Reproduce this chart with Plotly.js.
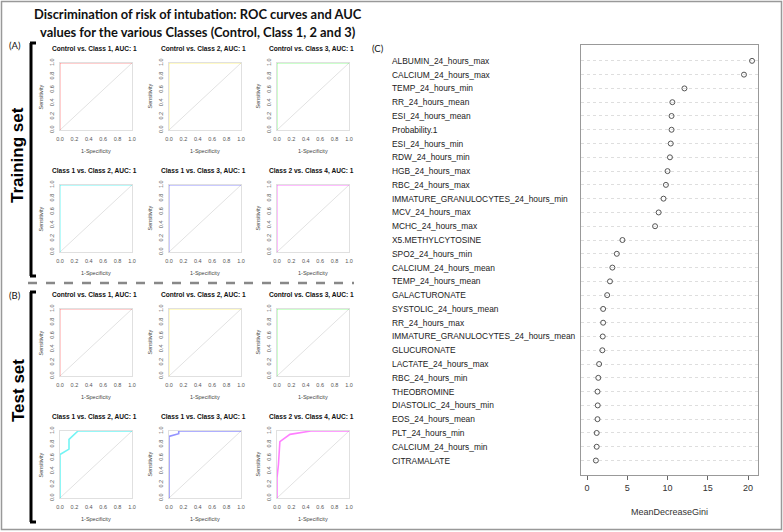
<!DOCTYPE html>
<html><head><meta charset="utf-8">
<script src="https://cdn.plot.ly/plotly-3.0.1.min.js"></script>
<style>html,body{margin:0;padding:0;background:#fff}</style>
</head><body><div id="chart" style="width:783px;height:532px"></div>
<script>
// ---------------- DATA ----------------
const rocTitles = [
  "Control vs. Class 1, AUC: 1", "Control vs. Class 2, AUC: 1", "Control vs. Class 3, AUC: 1",
  "Class 1 vs. Class 2, AUC: 1", "Class 1 vs. Class 3, AUC: 1", "Class 2 vs. Class 4, AUC: 1"
];
// training set: all perfect curves
const fprTrain = [0, 0, 1];
const tprTrain = [0, 1, 1];
// test set
const fprTestCtrl = [0, 0, 1];
const tprTestCtrl = [0, 1, 1];
const fprTestC1C2 = [0, 0, 0.125, 0.125, 0.25, 1];
const tprTestC1C2 = [0, 0.65, 0.73, 0.875, 1, 1];
const fprTestC1C3 = [0, 0, 0.135, 0.135, 1];
const tprTestC1C3 = [0, 0.92, 0.96, 1, 1];
const fprTestC2C4 = [0, 0, 0.02, 0.04, 0.18, 0.25, 0.47, 1];
const tprTestC2C4 = [0, 0.3, 0.5, 0.84, 0.95, 0.96, 1, 1];
const chanceLine = [0, 1];
const rocTicks = [0, 0.2, 0.4, 0.6, 0.8, 1.0];
const rocTickText = ["0.0", "0.2", "0.4", "0.6", "0.8", "1.0"];

const features = [
  "ALBUMIN_24_hours_max", "CALCIUM_24_hours_max", "TEMP_24_hours_min", "RR_24_hours_mean",
  "ESI_24_hours_mean", "Probability.1", "ESI_24_hours_min", "RDW_24_hours_min",
  "HGB_24_hours_max", "RBC_24_hours_max", "IMMATURE_GRANULOCYTES_24_hours_min", "MCV_24_hours_max",
  "MCHC_24_hours_max", "X5.METHYLCYTOSINE", "SPO2_24_hours_min", "CALCIUM_24_hours_mean",
  "TEMP_24_hours_mean", "GALACTURONATE", "SYSTOLIC_24_hours_mean", "RR_24_hours_max",
  "IMMATURE_GRANULOCYTES_24_hours_mean", "GLUCURONATE", "LACTATE_24_hours_max", "RBC_24_hours_min",
  "THEOBROMINE", "DIASTOLIC_24_hours_min", "EOS_24_hours_mean", "PLT_24_hours_min",
  "CALCIUM_24_hours_min", "CITRAMALATE"
];
const giniValues = [
  20.5, 19.5, 12.1, 10.6, 10.5, 10.5, 10.4, 10.3, 10.0, 9.8, 9.5, 8.9,
  8.45, 4.4, 3.7, 3.15, 2.85, 2.5, 2.0, 2.0, 1.95, 1.9, 1.5, 1.4,
  1.3, 1.33, 1.3, 1.2, 1.2, 1.1
];
const giniTicks = [0, 5, 10, 15, 20];

// ---------------- LAYOUT HELPERS ----------------
const W = 783, H = 532;
const px = x => x / W;
const py = y => 1 - y / H;
const rainbow = ["rgba(255,0,0,0.38)", "rgba(255,230,0,0.45)", "rgba(0,255,0,0.4)",
                 "rgba(0,235,235,0.55)", "rgba(0,0,255,0.42)", "rgba(255,0,255,0.5)"];
const colL = [60, 169, 277], boxW = 72;
const rowT = [63, 185, 309, 431], boxH = 67;
const FONT = "Liberation Sans, Arial, sans-serif";

const panels = [];
for (let i = 0; i < 6; i++) panels.push({title: rocTitles[i], fpr: fprTrain, tpr: tprTrain, color: rainbow[i], w: 1});
for (let i = 0; i < 3; i++) panels.push({title: rocTitles[i], fpr: fprTestCtrl, tpr: tprTestCtrl, color: rainbow[i], w: 1});
panels.push({title: rocTitles[3], fpr: fprTestC1C2, tpr: tprTestC1C2, color: rainbow[3], w: 1.6});
panels.push({title: rocTitles[4], fpr: fprTestC1C3, tpr: tprTestC1C3, color: rainbow[4], w: 1.6});
panels.push({title: rocTitles[5], fpr: fprTestC2C4, tpr: tprTestC2C4, color: rainbow[5], w: 1.6});

const traces = [];
const layout = {
  width: W, height: H, margin: {l: 0, r: 0, t: 0, b: 0},
  paper_bgcolor: "#fff", plot_bgcolor: "rgba(0,0,0,0)",
  showlegend: false, font: {family: FONT, color: "#333"},
  annotations: [], shapes: []
};

panels.forEach((p, idx) => {
  const k = idx + 1, sfx = k === 1 ? "" : String(k);
  const r = Math.floor(idx / 3), c = idx % 3;
  const L = colL[c], T = rowT[r];
  layout["xaxis" + sfx] = {
    domain: [px(L), px(L + boxW)], anchor: "y" + sfx, range: [0, 1],
    tickvals: rocTicks, ticktext: rocTickText, tickfont: {size: 5.5, color: "#555", family: FONT},
    ticks: "", showgrid: false, zeroline: false, showline: true, mirror: true,
    linecolor: "#e0e0e0", linewidth: 1, ticklabelstandoff: 3, fixedrange: true
  };
  layout["yaxis" + sfx] = {
    domain: [py(T + boxH), py(T)], anchor: "x" + sfx, range: [0, 1],
    tickvals: rocTicks, ticktext: rocTickText, tickangle: -90, tickfont: {size: 5.5, color: "#555", family: FONT},
    ticks: "", showgrid: false, zeroline: false, showline: true, mirror: true,
    linecolor: "#e0e0e0", linewidth: 1, ticklabelstandoff: 3, fixedrange: true
  };
  traces.push({x: chanceLine, y: chanceLine, xaxis: "x" + sfx, yaxis: "y" + sfx, mode: "lines",
               line: {color: "#e2e2e2", width: 1}, hoverinfo: "skip"});
  traces.push({x: p.fpr, y: p.tpr, xaxis: "x" + sfx, yaxis: "y" + sfx, mode: "lines",
               line: {color: p.color, width: p.w}});
  layout.annotations.push({text: "<b>" + p.title + "</b>", xref: "x" + sfx + " domain", yref: "y" + sfx + " domain",
    x: 0.5, y: 1, xanchor: "center", yanchor: "middle", xshift: -2, yshift: 14, showarrow: false,
    font: {size: 6.6, color: "#111", family: FONT}});
  layout.annotations.push({text: "1-Specificity", xref: "x" + sfx + " domain", yref: "y" + sfx + " domain",
    x: 0.5, y: 0, xanchor: "center", yanchor: "middle", yshift: -21, showarrow: false,
    font: {size: 5.5, color: "#444", family: FONT}});
  layout.annotations.push({text: "Sensitivity", xref: "x" + sfx + " domain", yref: "y" + sfx + " domain",
    x: 0, y: 0.5, xanchor: "center", yanchor: "middle", xshift: -20, textangle: -90, showarrow: false,
    font: {size: 5.5, color: "#444", family: FONT}});
});

// ---------------- DOT PLOT ----------------
const n = features.length;
const rowPos = features.map((f, i) => n - i);
layout.xaxis13 = {
  domain: [px(581), px(758)], anchor: "y13", range: [-0.75, 21.24],
  tickvals: giniTicks, ticks: "outside", ticklen: 4, tickcolor: "#666",
  tickfont: {size: 9, color: "#333", family: FONT}, showgrid: false, zeroline: false,
  showline: true, mirror: true, linecolor: "#999", linewidth: 1, fixedrange: true
};
layout.yaxis13 = {
  domain: [py(475), py(45)], anchor: "x13", range: [-0.05, 31.15],
  tickvals: rowPos, showticklabels: false, ticks: "", showgrid: true, gridcolor: "#dedede",
  griddash: "dot", gridwidth: 1, zeroline: false, showline: true, mirror: true,
  linecolor: "#999", linewidth: 1, fixedrange: true
};
traces.push({x: giniValues, y: rowPos, xaxis: "x13", yaxis: "y13", mode: "markers",
  marker: {symbol: "circle-open", size: 5, color: "#555", line: {width: 1, color: "#555"}}});
features.forEach((f, i) => {
  layout.annotations.push({text: f, xref: "paper", yref: "y13", x: px(390), y: rowPos[i],
    xanchor: "left", yanchor: "middle", showarrow: false, font: {size: 8.4, color: "#222", family: FONT}});
});
layout.annotations.push({text: "MeanDecreaseGini", xref: "x13 domain", yref: "y13 domain", x: 0.5, y: 0,
  xanchor: "center", yanchor: "middle", yshift: -37, showarrow: false, font: {size: 9, color: "#333", family: FONT}});

// ---------------- TEXT & DECORATIONS ----------------
const addText = (t, x, y, size, opts = {}) => layout.annotations.push(Object.assign({
  text: t, xref: "paper", yref: "paper", x: px(x), y: py(y), xanchor: "center", yanchor: "middle",
  showarrow: false, font: {size: size, color: "#111", family: "Lato, sans-serif"}}, opts));
addText("<b>Discrimination of risk of intubation: ROC curves and AUC</b>", 198, 14, 12.9);
addText("<b>values for the various Classes (Control, Class 1, 2 and 3)</b>", 198, 32, 12.9);
addText("(A)", 15, 46, 9.5);
addText("(B)", 15, 295, 9.5);
addText("(C)", 378, 48, 9.5);
addText("<b>Training set</b>", 18, 155, 17, {textangle: -90, font: {size: 17, color: "#000", family: FONT}});
addText("<b>Test set</b>", 18, 391, 17, {textangle: -90, font: {size: 17, color: "#000", family: FONT}});

const line = (x0, y0, x1, y1, col, w, dash) => layout.shapes.push({type: "line", xref: "paper", yref: "paper",
  x0: px(x0), y0: py(y0), x1: px(x1), y1: py(y1), line: {color: col, width: w, dash: dash || "solid"}});
// brackets
line(31, 43, 31, 276, "#000", 3); line(30, 43, 36, 43, "#000", 3); line(30, 276, 36, 276, "#000", 3);
line(31, 292, 31, 522, "#000", 3); line(30, 292, 36, 292, "#000", 3); line(30, 522, 36, 522, "#000", 3);
// separator
line(28, 283, 354, 283, "#888", 2.5, "dash");
// outer border
layout.shapes.push({type: "rect", xref: "paper", yref: "paper", x0: px(1.5), x1: px(781.5), y0: py(529.5), y1: py(1.5),
  line: {color: "#999", width: 1.5}});

Plotly.newPlot("chart", traces, layout, {staticPlot: true, displayModeBar: false});
</script></body></html>
